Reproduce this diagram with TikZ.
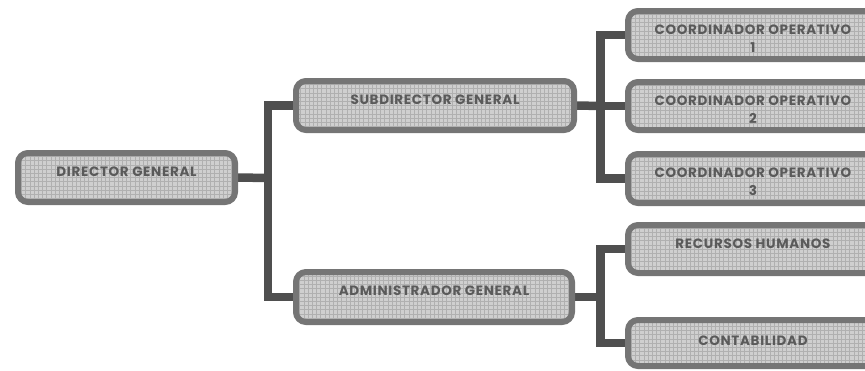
\documentclass[tikz,border=0pt]{standalone}
\usepackage{fontspec}
\setmainfont{Poppins}
\newfontfamily\orgfont[LetterSpace=5]{Poppins}
\usetikzlibrary{backgrounds,shadows,calc}

\definecolor{boxborder}{HTML}{757575}
\definecolor{boxfill}{HTML}{CFCFCF}
\definecolor{gridcol}{HTML}{B0B0B0}
\definecolor{linkcol}{HTML}{4F4F4F}
\definecolor{labelcol}{HTML}{5A5A5A}

\tikzset{
  orgbox/.style={draw=boxborder, line width=6pt, fill=boxfill,
    rounded corners=10pt, inner sep=0pt,
    drop shadow={shadow xshift=2pt, shadow yshift=-2pt, opacity=.15, fill=black},
    path picture={\draw[gridcol, line width=.45pt]
      (path picture bounding box.south west) grid[step=4.2pt]
      (path picture bounding box.north east);}},
  orgtext/.style={anchor=north, inner sep=0pt, text=labelcol, align=center,
    font=\orgfont\fontsize{13.5}{18}\selectfont\bfseries},
  link/.style={draw=linkcol, line width=8.5pt, line join=miter},
}

\begin{document}
\begin{tikzpicture}[x=1pt, y=-1pt]
\useasboundingbox (0,0) rectangle (865,370);

% boxes (sizes measured at the middle of the border line)
\node[orgbox, minimum width=217, minimum height=49] (dir) at (126.5,177.5) {};
\node[orgbox, minimum width=278, minimum height=49] (sub) at (435,105.5) {};
\node[orgbox, minimum width=276, minimum height=50] (adm) at (434,297) {};
\node[orgbox, minimum width=250, minimum height=48] (co1) at (753,35) {};
\node[orgbox, minimum width=250, minimum height=48] (co2) at (753,106) {};
\node[orgbox, minimum width=250, minimum height=49] (co3) at (753,178.5) {};
\node[orgbox, minimum width=250, minimum height=48] (rh)  at (753,249) {};
\node[orgbox, minimum width=250, minimum height=46] (con) at (753,343) {};

% labels, hung from the top edge of each box
\node[orgtext] (dirT) at ($(dir.north)+(0,17)$) {DIRECTOR GENERAL};
\node[orgtext] (subT) at ($(sub.north)+(0,17)$) {SUBDIRECTOR GENERAL};
\node[orgtext] (admT) at ($(adm.north)+(0,17)$) {ADMINISTRADOR GENERAL};
\node[orgtext] (co1T) at ($(co1.north)+(0,17)$) {COORDINADOR OPERATIVO\\1};
\node[orgtext] (co2T) at ($(co2.north)+(0,17)$) {COORDINADOR OPERATIVO\\2};
\node[orgtext] (co3T) at ($(co3.north)+(0,17)$) {COORDINADOR OPERATIVO\\3};
\node[orgtext] (rhT)  at ($(rh.north)+(0,17)$)  {RECURSOS HUMANOS};
\node[orgtext] (conT) at ($(con.north)+(0,19)$) {CONTABILIDAD};

% trunk junctions
\coordinate (t1) at (268,178);
\coordinate (t2) at (600.5,106);
\coordinate (t3) at (600.5,297);

\begin{scope}[on background layer]
  \draw[link] (dir.east) -- (t1);
  \draw[link] (sub.west) -| (t1) |- (adm.west);
  \draw[link] (sub.east) -- (t2);
  \draw[link] (co1.west) -| (t2) |- (co3.west);
  \draw[link] (t2) -- (co2.west);
  \draw[link] (adm.east) -- (t3);
  \draw[link] (rh.west) -| (t3) |- (con.west);
\end{scope}
\end{tikzpicture}
\end{document}
